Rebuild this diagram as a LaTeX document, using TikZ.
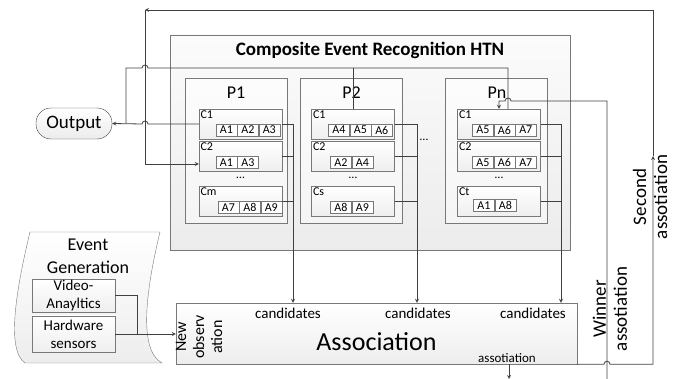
\documentclass[tikz,border=0pt]{standalone}
\usepackage{fontspec}
\setmainfont{Carlito}
\usetikzlibrary{positioning}
\definecolor{linegray}{RGB}{64,64,64}
\definecolor{boxgray}{RGB}{120,120,120}
\newcommand{\fs}[2]{\fontsize{#1}{#2}\selectfont}

\begin{document}
\begin{tikzpicture}[x=1pt, y=-1pt,
    container/.style={rectangle, draw=boxgray, top color=gray!3, bottom color=gray!15, minimum width=400pt, minimum height=215pt},
    procbox/.style={rectangle, draw=boxgray, top color=gray!2, bottom color=gray!8, minimum width=102pt, minimum height=145pt},
    cbox/.style={rectangle, draw=boxgray, top color=white, bottom color=gray!13, minimum width=83pt, minimum height=30pt},
    abox/.style={rectangle, draw=boxgray, fill=white, minimum width=21pt, minimum height=12pt, inner sep=0pt, font=\fs{12}{14}},
    clabel/.style={anchor=north west, inner sep=1.5pt, font=\fs{12}{14}},
    srcbox/.style={rectangle, draw=boxgray, top color=white, bottom color=gray!13, minimum width=83pt, align=center, inner sep=1pt, font=\fs{15}{18}},
    arrow/.style={->, >=stealth, draw=linegray, thick},
    wire/.style={draw=linegray, thick}
]
    \useasboundingbox (0,0) rectangle (673,379);

    % HTN with its processes
    \node[container] (htn) at (370,142.5) {};
    \node[font=\bfseries\fs{19}{22}] (title) at (370,50) {Composite Event Recognition HTN};
    \node[procbox] (p1) at (236,150.5) {};
    \node[procbox] (p2) at (351.5,150.5) {};
    \node[procbox] (pn) at (496.5,150.5) {};
    \node[font=\fs{18}{20}] (p1name) at (236,92.5) {P1};
    \node[font=\fs{18}{20}] (p2name) at (351.5,92.5) {P2};
    \node[font=\fs{18}{20}] (pnname) at (497,92.5) {Pn};
    \node[font=\fs{12}{14}] (pdots) at (424,140) {\dots};

    % P1
    \node[cbox] (p1c1) at (240.5,124) {};
    \node[cbox] (p1c2) at (240.5,156.5) {};
    \node[cbox] (p1cm) at (240.5,201.5) {};
    \node[clabel] at (p1c1.north west) {C1};
    \node[clabel] at (p1c2.north west) {C2};
    \node[clabel] at (p1cm.north west) {Cm};
    \node[font=\fs{12}{14}] (p1dots) at (240.5,178) {\dots};
    \node[abox, anchor=south west] (p1c1a1) at ([xshift=17,yshift=3]p1c1.south west) {A1};
    \node[abox, right=0pt of p1c1a1] (p1c1a2) {A2};
    \node[abox, right=0pt of p1c1a2] (p1c1a3) {A3};
    \node[abox, anchor=south west] (p1c2a1) at ([xshift=17,yshift=3]p1c2.south west) {A1};
    \node[abox, right=0pt of p1c2a1] (p1c2a3) {A3};
    \node[abox, anchor=south west] (p1cma7) at ([xshift=19,yshift=3]p1cm.south west) {A7};
    \node[abox, right=0pt of p1cma7] (p1cma8) {A8};
    \node[abox, right=0pt of p1cma8] (p1cma9) {A9};

    % P2
    \node[cbox] (p2c1) at (353,124) {};
    \node[cbox] (p2c2) at (353,156.5) {};
    \node[cbox] (p2cs) at (353,201.5) {};
    \node[clabel] at (p2c1.north west) {C1};
    \node[clabel] at (p2c2.north west) {C2};
    \node[clabel] at (p2cs.north west) {Cs};
    \node[font=\fs{12}{14}] (p2dots) at (353,178) {\dots};
    \node[abox, anchor=south west] (p2c1a4) at ([xshift=17,yshift=3]p2c1.south west) {A4};
    \node[abox, right=0pt of p2c1a4] (p2c1a5) {A5};
    \node[abox, right=0pt of p2c1a5] (p2c1a6) {A6};
    \node[abox, anchor=south west] (p2c2a2) at ([xshift=19,yshift=3]p2c2.south west) {A2};
    \node[abox, right=0pt of p2c2a2] (p2c2a4) {A4};
    \node[abox, anchor=south west] (p2csa8) at ([xshift=19,yshift=3]p2cs.south west) {A8};
    \node[abox, right=0pt of p2csa8] (p2csa9) {A9};

    % Pn
    \node[cbox] (pnc1) at (499,124) {};
    \node[cbox] (pnc2) at (499,156.5) {};
    \node[cbox] (pnct) at (499,201.5) {};
    \node[clabel] at (pnc1.north west) {C1};
    \node[clabel] at (pnc2.north west) {C2};
    \node[clabel] at (pnct.north west) {Ct};
    \node[font=\fs{12}{14}] (pndots) at (499,178) {\dots};
    \node[abox, anchor=south west] (pnc1a5) at ([xshift=15,yshift=3]pnc1.south west) {A5};
    \node[abox, right=0pt of pnc1a5] (pnc1a6) {A6};
    \node[abox, right=0pt of pnc1a6] (pnc1a7) {A7};
    \node[abox, anchor=south west] (pnc2a5) at ([xshift=15,yshift=3]pnc2.south west) {A5};
    \node[abox, right=0pt of pnc2a5] (pnc2a6) {A6};
    \node[abox, right=0pt of pnc2a6] (pnc2a7) {A7};
    \node[abox, anchor=south west] (pncta1) at ([xshift=16,yshift=5]pnct.south west) {A1};
    \node[abox, right=0pt of pncta1] (pncta8) {A8};

    % Association and output
    \node[rectangle, draw=boxgray, top color=white, bottom color=gray!14, minimum width=401pt, minimum height=61pt] (assoc) at (376.5,333.5) {};
    \node[font=\fs{26}{30}] (assoctext) at (376.5,342) {Association};
    \node[font=\fs{15}{18}] (cand1) at (288,313) {candidates};
    \node[font=\fs{15}{18}] (cand2) at (418,313) {candidates};
    \node[font=\fs{15}{18}] (cand3) at (533,313) {candidates};
    \node[font=\fs{16}{18}, rotate=90, align=center, inner sep=0pt] (newobs) at (199,337) {New\\observ\\ation};
    \node[font=\fs{13}{15}] (assoclabel) at (507,358) {assotiation};
    \node[rectangle, rounded corners=15pt, draw=linegray, top color=white, bottom color=gray!15, minimum width=76pt, minimum height=31pt, font=\fs{19}{22}] (out) at (74,123.5) {Output};

    % Event generation
    \draw[draw=boxgray, top color=white, bottom color=gray!14] (30,232) -- (160,232) .. controls (146,290) and (138,350) .. (162,363) -- (25,363) .. controls (6,350) and (16,290) .. (30,232) -- cycle;
    \node[font=\fs{18}{23}, align=center] (evgen) at (88,256) {Event\\Generation};
    \node[srcbox, minimum height=31pt] (video) at (73.5,295.5) {Video-\\Anayltics};
    \node[srcbox, minimum height=36pt] (hw) at (73.5,334) {Hardware\\sensors};

    % Named points for the wiring
    \coordinate (bus1) at (293,0);
    \coordinate (bus2) at (417,0);
    \coordinate (busn) at (561,0);
    \coordinate (jx) at (148,0);
    \coordinate (rail) at (126,68);
    \coordinate (gj) at (137,0);
    \coordinate (wbot) at (607,379);
    \coordinate (wtop) at (607,101);
    \coordinate (wj) at (511,101);
    \coordinate (sj) at (604,0);
    \coordinate (secmid) at (653,156);
    \coordinate (secl) at (145,10);
    \coordinate (aout) at (509,379);

    % Candidates
    \draw[arrow] (p1c1.east) -| (bus1 |- assoc.north);
    \draw[wire] (p1c2.east) -- (p1c2.east -| bus1);
    \draw[wire] (p1cm.east) -- (p1cm.east -| bus1);
    \draw[arrow] (p2c1.east) -| (bus2 |- assoc.north);
    \draw[wire] (p2c2.east) -- (p2c2.east -| bus2);
    \draw[wire] (p2cs.east) -- (p2cs.east -| bus2);
    \draw[arrow] (pnc1.east) -| (busn |- assoc.north);
    \draw[wire] (pnc2.east) -- (pnc2.east -| busn);
    \draw[wire] (pnct.east) -- (pnct.east -| busn);

    % Output
    \draw[arrow] (p1c1.west) -- (p1c1.west -| jx) arc[start angle=0, end angle=180, radius=3pt] -- (out.east);
    \draw[wire] ([xshift=9pt]pnc1.north) |- (jx |- rail) arc[start angle=0, end angle=180, radius=3pt] -- (rail) -- (rail |- out.east);
    \draw[wire] (p2c1.north) -- (p2c1.north |- rail);

    % New observation
    \draw[wire] (video.east) -| (gj |- hw.east);
    \draw[arrow] (hw.east) -- (hw.east -| assoc.west);
    \draw[arrow] (aout |- assoc.south) -- (aout);

    % Winner and second association
    \draw[arrow] (wbot) -- (wtop) -- (wj) arc[start angle=0, end angle=180, radius=3pt] -| (pnc1.north);
    \draw[arrow] (assoc.south east) -- (assoc.south east -| sj) arc[start angle=180, end angle=0, radius=3pt] -| (secmid);
    \draw[arrow] (secmid) |- (secl);
    \draw[arrow] (secl) |- ([yshift=-7.5pt]p1c2.west);
    \node[font=\fs{19}{21}, rotate=90, align=center, inner sep=0pt] (winner) at (610,309) {Winner\\assotiation};
    \node[font=\fs{19}{21}, rotate=90, align=center, inner sep=0pt] (second) at (650,197) {Second\\assotiation};
\end{tikzpicture}
\end{document}
